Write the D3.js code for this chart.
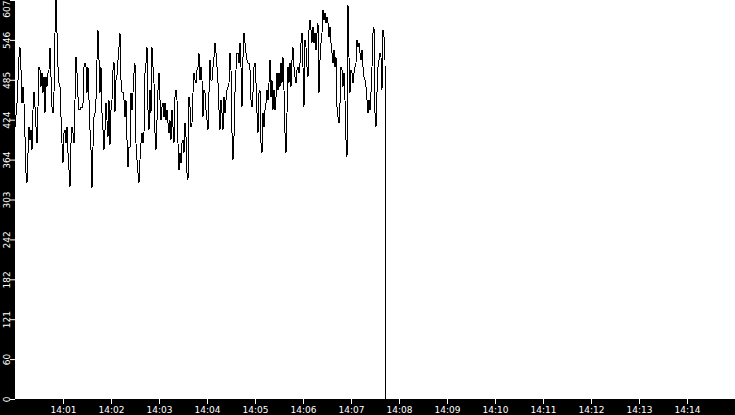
<!DOCTYPE html>
<html>
<head>
<meta charset="utf-8">
<script src="https://cdn.jsdelivr.net/npm/d3@7"></script>
<style>
  html, body { margin: 0; padding: 0; background: #000; }
  svg { display: block; }
  .axis text { font-family: "DejaVu Sans", sans-serif; font-size: 9px; fill: #fff; }
  .axis line { stroke: #fff; }
</style>
</head>
<body>
<div id="chart"></div>
<script>
// samples, evenly spaced from 14:00:00
var startTime = new Date(2000, 0, 1, 14, 0, 0);
var sampleSeconds = 1.25;
var values = [
  414, 432, 450, 485, 520, 535, 501, 450, 475, 450, 399, 344, 329, 374, 414, 394, 409, 379, 440, 467,
  444, 414, 389, 444, 505, 501, 475, 496, 466, 490, 435, 490, 475, 496, 501, 534, 490, 444, 435, 466,
  557, 607, 557, 505, 481, 475, 429, 389, 359, 405, 409, 389, 414, 374, 348, 323, 389, 414, 405, 389,
  455, 520, 496, 459, 440, 440, 444, 443, 450, 505, 511, 505, 466, 505, 455, 409, 379, 321, 383, 429,
  435, 455, 516, 561, 516, 466, 505, 435, 409, 379, 409, 450, 424, 399, 455, 386, 440, 455, 501, 513,
  437, 485, 493, 516, 535, 557, 485, 467, 467, 455, 429, 455, 394, 353, 383, 383, 466, 440, 466, 496,
  511, 389, 364, 344, 329, 364, 389, 405, 389, 405, 496, 511, 535, 440, 409, 470, 435, 535, 505, 481,
  405, 379, 424, 470, 496, 455, 424, 444, 450, 429, 450, 424, 440, 420, 405, 424, 394, 440, 414, 389,
  459, 470, 455, 389, 348, 374, 359, 389, 394, 374, 420, 399, 344, 333, 459, 444, 414, 420, 466, 496,
  485, 481, 501, 505, 526, 485, 505, 485, 429, 470, 466, 440, 424, 409, 466, 516, 485, 485, 505, 520,
  542, 526, 505, 481, 440, 409, 455, 435, 409, 459, 435, 455, 470, 475, 481, 526, 501, 405, 364, 399,
  466, 501, 526, 526, 511, 542, 505, 444, 520, 557, 542, 526, 516, 511, 511, 501, 455, 444, 466, 505,
  511, 481, 435, 405, 466, 470, 389, 374, 435, 414, 440, 450, 470, 455, 481, 516, 459, 485, 440, 470,
  440, 459, 496, 470, 496, 475, 511, 481, 520, 470, 405, 374, 435, 505, 481, 511, 475, 516, 535, 505,
  490, 481, 501, 505, 496, 511, 542, 557, 505, 444, 546, 535, 505, 490, 561, 577, 561, 542, 566, 542,
  557, 531, 557, 572, 466, 516, 542, 557, 592, 577, 587, 572, 581, 572, 551, 566, 542, 526, 511, 531,
  505, 520, 444, 429, 420, 450, 505, 501, 475, 496, 455, 394, 368, 599, 520, 466, 501, 496, 481, 496,
  505, 511, 546, 535, 542, 526, 516, 531, 505, 490, 485, 475, 455, 435, 455, 440, 466, 505, 557, 566,
  435, 414, 466, 505, 516, 526, 520, 470, 561, 551, 516, 0
];
var xDomain = [new Date(2000, 0, 1, 14, 0, 0), new Date(2000, 0, 1, 14, 15, 0)];
var xTickMinutes = [1, 2, 3, 4, 5, 6, 7, 8, 9, 10, 11, 12, 13, 14];
var yMax = 607;
var yTicks = [0, 60.7, 121.4, 182.1, 242.8, 303.5, 364.2, 424.9, 485.6, 546.3, 607];

var width = 735, height = 415;
var left = 15, bottom = 16;

var data = values.map(function (v, i) {
  return { t: new Date(startTime.getTime() + i * sampleSeconds * 1000), v: v };
});

var svg = d3.select("#chart").append("svg")
  .attr("width", width)
  .attr("height", height);

var x = d3.scaleTime().domain(xDomain).range([left, width]);
var y = d3.scaleLinear().domain([0, yMax]).range([height - bottom, 0]);

// black frame, white plot area
svg.append("rect").attr("width", width).attr("height", height).attr("fill", "#000");
svg.append("rect")
  .attr("x", left).attr("y", 0)
  .attr("width", width - left).attr("height", height - bottom)
  .attr("fill", "#fff");

var line = d3.line()
  .x(function (d) { return x(d.t); })
  .y(function (d) { return y(d.v); });

svg.append("path")
  .datum(data)
  .attr("d", line)
  .attr("fill", "none")
  .attr("stroke", "#000")
  .attr("stroke-width", 1)
  .attr("shape-rendering", "crispEdges");

var xAxis = d3.axisBottom(x)
  .tickValues(xTickMinutes.map(function (m) { return new Date(2000, 0, 1, 14, m, 0); }))
  .tickFormat(d3.timeFormat("%H:%M"))
  .tickSize(5)
  .tickPadding(2);

var gx = svg.append("g")
  .attr("class", "axis")
  .attr("transform", "translate(0," + (height - bottom) + ")")
  .call(xAxis);
gx.select(".domain").remove();
gx.selectAll("text").attr("y", 8).attr("dy", "0.71em");

var yAxis = d3.axisLeft(y)
  .tickValues(yTicks)
  .tickFormat(function (d) { return Math.floor(d + 1e-9); })
  .tickSize(5);

var gy = svg.append("g")
  .attr("class", "axis")
  .attr("transform", "translate(" + left + ",0)")
  .call(yAxis);
gy.select(".domain").remove();
gy.selectAll("text")
  .attr("x", 0)
  .attr("y", -5.5)
  .attr("dy", 0)
  .attr("transform", "rotate(-90)")
  .attr("text-anchor", function (d) { return d === yMax ? "end" : "middle"; });
</script>
</body>
</html>
